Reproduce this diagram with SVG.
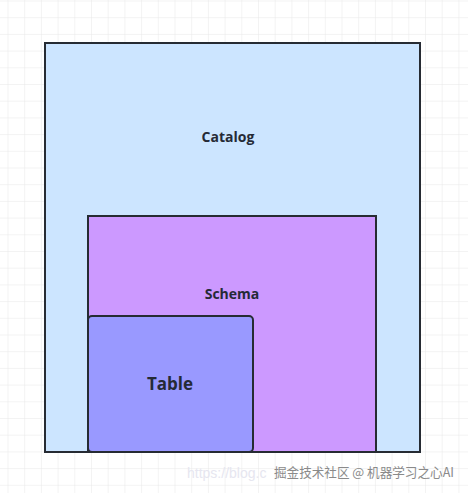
<svg xmlns="http://www.w3.org/2000/svg" width="468" height="493" viewBox="0 0 468 493">
<defs>
<pattern id="grid" x="7.5" y="0.5" width="16.7" height="16.7" patternUnits="userSpaceOnUse">
<path d="M0 0V16.7M0 0H16.7" fill="none" stroke="#e8e8e8" stroke-width="1"/>
</pattern>
<style>
.box{stroke:#262b33;stroke-width:2}
.lbl{font-family:"Open Sans","Noto Sans","Liberation Sans",sans-serif;font-weight:bold;fill:#252a36;text-anchor:middle}
</style>
</defs>
<rect width="468" height="493" fill="#ffffff"/>
<rect width="468" height="493" fill="url(#grid)"/>
<g id="catalog">
<rect class="box" x="45" y="43" width="375" height="409" fill="#cce5ff"/>
<text class="lbl" x="228" y="142" font-size="14">Catalog</text>
</g>
<g id="schema">
<rect class="box" x="88" y="216" width="288" height="236" fill="#cc99ff"/>
<text class="lbl" x="232" y="299" font-size="14">Schema</text>
</g>
<g id="table">
<rect class="box" x="88" y="316" width="165" height="136" rx="4" fill="#9999ff"/>
<text class="lbl" x="170" y="390" font-size="17">Table</text>
</g>
<g id="connectors"/>
<text x="187" y="478" font-family="Liberation Sans,sans-serif" font-size="14" fill="#e6e6f0">https://blog.c</text>
<text x="274" y="477" font-family="Noto Sans CJK SC,sans-serif" font-size="13" fill="#8a8a8a" textLength="180" lengthAdjust="spacingAndGlyphs">掘金技术社区 @ 机器学习之心AI</text>
</svg>
